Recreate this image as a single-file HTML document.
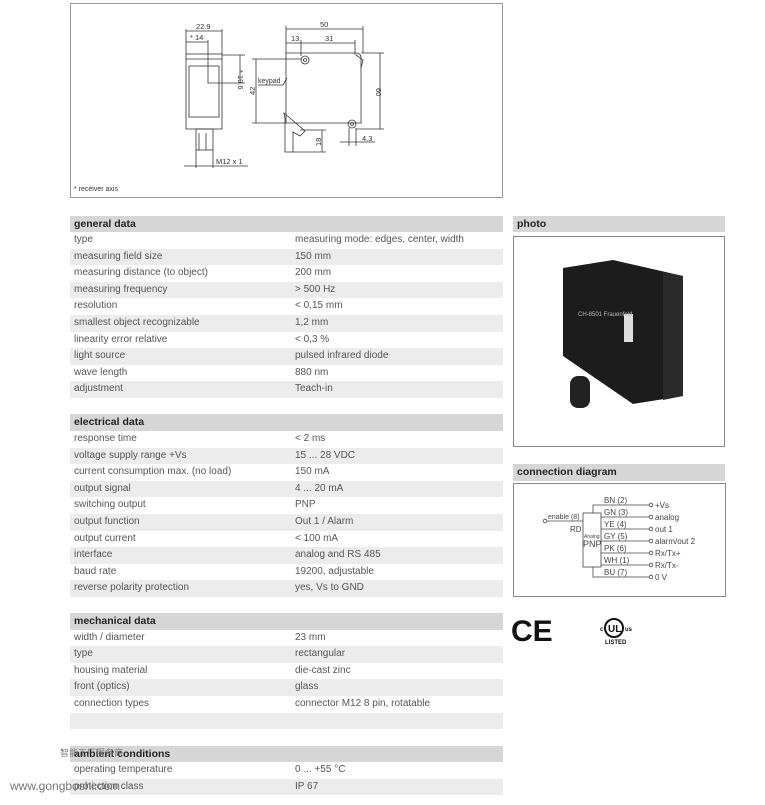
<!DOCTYPE html>
<html><head><meta charset="utf-8"><style>
body{margin:0;width:765px;height:805px;background:#fff;position:relative;overflow:hidden;font-family:"Liberation Sans",sans-serif;color:#555;}
.r{position:absolute;left:70px;width:433px;height:16.6px;font-size:10px;line-height:16.6px;}
.r span{position:absolute;left:4px;}
.r span+span{left:225px;}
.g{background:#ececec;}
.h{position:absolute;height:16.5px;background:#d6d6d6;font-size:10.5px;font-weight:bold;color:#222;line-height:16.5px;padding-left:4px;box-sizing:border-box;}
</style></head><body>
<div style="position:absolute;left:70px;top:3px;width:433px;height:195px;border:1px solid #999;box-sizing:border-box;"></div>
<svg style="position:absolute;left:0;top:0" width="765" height="805">
<g fill="none" stroke="#333" stroke-width="0.8">
<rect x="186" y="54" width="36" height="75"/><line x1="186" y1="59" x2="222" y2="59"/>
<rect x="189" y="66" width="30" height="51"/>
<rect x="196" y="129" width="17" height="21"/>
<line x1="199" y1="133" x2="199" y2="150"/><line x1="206" y1="133" x2="206" y2="150"/>
<line x1="186" y1="31" x2="222" y2="31"/><line x1="186" y1="29" x2="186" y2="54"/><line x1="222" y1="29" x2="222" y2="54"/>
<line x1="186" y1="42" x2="208" y2="42"/><polyline points="208,40 208,83 219,83"/>
<line x1="240" y1="55" x2="240" y2="83"/><line x1="222" y1="55" x2="245" y2="55"/><line x1="219" y1="83" x2="245" y2="83"/>
<line x1="184" y1="166" x2="248" y2="166"/><line x1="196" y1="150" x2="196" y2="168"/><line x1="213" y1="150" x2="213" y2="168"/>
<path d="M286,53 H356 Q361,53 361,58 V123 H286 Z"/>
<path d="M356,55 L363,60 L361,68"/>
<circle cx="305" cy="60" r="4"/><circle cx="305" cy="60" r="1.5"/>
<circle cx="352" cy="124" r="4"/><circle cx="352" cy="124" r="1.5"/>
<path d="M284,113 L305,131 L300,136 L293,132 L293,152 L285,152 L285,118 Z"/>
<line x1="286" y1="29" x2="363" y2="29"/><line x1="286" y1="26" x2="286" y2="53"/><line x1="363" y1="26" x2="363" y2="53"/>
<line x1="286" y1="43" x2="355" y2="43"/><line x1="301" y1="40" x2="301" y2="56"/><line x1="355" y1="40" x2="355" y2="55"/>
<line x1="256" y1="59" x2="256" y2="123"/><line x1="252" y1="59" x2="301" y2="59"/><line x1="252" y1="123" x2="286" y2="123"/>
<line x1="380" y1="53" x2="380" y2="129"/><line x1="361" y1="53" x2="384" y2="53"/><line x1="356" y1="129" x2="384" y2="129"/>
<line x1="322" y1="130" x2="322" y2="152"/><line x1="300" y1="130" x2="326" y2="130"/><line x1="293" y1="152" x2="326" y2="152"/>
<line x1="340" y1="142" x2="375" y2="142"/><line x1="349" y1="128" x2="349" y2="146"/><line x1="356" y1="128" x2="356" y2="146"/>
<line x1="258" y1="85" x2="283" y2="85"/><line x1="283" y1="85" x2="287" y2="78"/>
</g>
<g font-size="7.5" fill="#333" font-family="Liberation Sans,sans-serif">
<text x="196" y="29">22.9</text><text x="190" y="40">* 14</text>
<text x="238" y="70" transform="rotate(90 238 70)">* 19.6</text>
<text x="216" y="164">M12 x 1</text>
<text x="320" y="27">50</text><text x="291" y="41">13</text><text x="325" y="41">31</text>
<text x="255" y="95" transform="rotate(-90 255 95)">42</text>
<text x="376" y="88" transform="rotate(90 376 88)">60</text>
<text x="258" y="83" font-size="7">keypad</text>
<text x="321" y="146" transform="rotate(-90 321 146)">18</text>
<text x="362" y="141">4.3</text>
<text x="74" y="191" font-size="7">* receiver axis</text>
</g>
</svg>

<div class="h" style="left:70px;top:215.5px;width:433px">general data</div>
<div class="r" style="top:232px"><span>type</span><span>measuring mode: edges, center, width</span></div>
<div class="r g" style="top:248.6px"><span>measuring field size</span><span>150 mm</span></div>
<div class="r" style="top:265.2px"><span>measuring distance (to object)</span><span>200 mm</span></div>
<div class="r g" style="top:281.8px"><span>measuring frequency</span><span>&gt; 500 Hz</span></div>
<div class="r" style="top:298.4px"><span>resolution</span><span>&lt; 0,15 mm</span></div>
<div class="r g" style="top:315px"><span>smallest object recognizable</span><span>1,2 mm</span></div>
<div class="r" style="top:331.6px"><span>linearity error relative</span><span>&lt; 0,3 %</span></div>
<div class="r g" style="top:348.2px"><span>light source</span><span>pulsed infrared diode</span></div>
<div class="r" style="top:364.8px"><span>wave length</span><span>880 nm</span></div>
<div class="r g" style="top:381.4px"><span>adjustment</span><span>Teach-in</span></div>

<div class="h" style="left:70px;top:414px;width:433px">electrical data</div>
<div class="r" style="top:431px"><span>response time</span><span>&lt; 2 ms</span></div>
<div class="r g" style="top:447.6px"><span>voltage supply range +Vs</span><span>15 ... 28 VDC</span></div>
<div class="r" style="top:464.2px"><span>current consumption max. (no load)</span><span>150 mA</span></div>
<div class="r g" style="top:480.8px"><span>output signal</span><span>4 ... 20 mA</span></div>
<div class="r" style="top:497.4px"><span>switching output</span><span>PNP</span></div>
<div class="r g" style="top:514px"><span>output function</span><span>Out 1 / Alarm</span></div>
<div class="r" style="top:530.6px"><span>output current</span><span>&lt; 100 mA</span></div>
<div class="r g" style="top:547.2px"><span>interface</span><span>analog and RS 485</span></div>
<div class="r" style="top:563.8px"><span>baud rate</span><span>19200, adjustable</span></div>
<div class="r g" style="top:580.4px"><span>reverse polarity protection</span><span>yes, Vs to GND</span></div>

<div class="h" style="left:70px;top:613px;width:433px">mechanical data</div>
<div class="r" style="top:629.5px"><span>width / diameter</span><span>23 mm</span></div>
<div class="r g" style="top:646.1px"><span>type</span><span>rectangular</span></div>
<div class="r" style="top:662.7px"><span>housing material</span><span>die-cast zinc</span></div>
<div class="r g" style="top:679.3px"><span>front (optics)</span><span>glass</span></div>
<div class="r" style="top:695.9px"><span>connection types</span><span>connector M12 8 pin, rotatable</span></div>
<div class="r g" style="top:712.5px"></div>

<div class="h" style="left:70px;top:745.5px;width:433px">ambient conditions</div>
<div class="r" style="top:762px"><span>operating temperature</span><span>0 ... +55 °C</span></div>
<div class="r g" style="top:778.6px"><span>protection class</span><span>IP 67</span></div>
<div style="position:absolute;left:10px;top:779px;font-size:12px;color:#777;">www.gongboshi.com</div>
<div style="position:absolute;left:60px;top:746px;font-size:9px;color:#777;font-family:'Liberation Sans','Noto Sans CJK SC',sans-serif;">智能工厂服务商</div>

<div class="h" style="left:513px;top:215.5px;width:212px">photo</div>
<div style="position:absolute;left:513px;top:236px;width:212px;height:211px;border:1px solid #888;box-sizing:border-box;"></div>
<svg style="position:absolute;left:513px;top:236px" width="212" height="211">
<polygon points="50,32 100,24 170,40 170,160 120,168 50,120" fill="#1c1c1c"/>
<polygon points="150,36 170,40 170,160 150,164" fill="#2a2a2a"/>
<rect x="57" y="140" width="20" height="32" rx="8" fill="#222"/>
<rect x="111" y="78" width="9" height="28" fill="#ddd"/>
<text x="65" y="80" font-size="6" fill="#bbb" font-family="Liberation Sans,sans-serif">CH-8501 Frauenfeld</text>
</svg>

<div class="h" style="left:513px;top:464px;width:212px">connection diagram</div>
<div style="position:absolute;left:513px;top:483px;width:213px;height:114px;border:1px solid #888;box-sizing:border-box;"></div>
<svg style="position:absolute;left:0;top:0" width="765" height="805">
<g stroke="#444" stroke-width="0.8" fill="none">
<rect x="583" y="513" width="18" height="54"/>
<polyline points="593,513 593,505 649,505"/>
<line x1="601" y1="517" x2="649" y2="517"/><line x1="601" y1="529" x2="649" y2="529"/>
<line x1="601" y1="541" x2="649" y2="541"/><line x1="601" y1="553" x2="649" y2="553"/>
<line x1="601" y1="565" x2="649" y2="565"/><polyline points="593,567 593,577 649,577"/>
<line x1="547" y1="521" x2="583" y2="521"/>
<circle cx="651" cy="505" r="1.8"/><circle cx="651" cy="517" r="1.8"/><circle cx="651" cy="529" r="1.8"/>
<circle cx="651" cy="541" r="1.8"/><circle cx="651" cy="553" r="1.8"/><circle cx="651" cy="565" r="1.8"/>
<circle cx="651" cy="577" r="1.8"/><circle cx="545" cy="521" r="1.8"/>
</g>
<g font-size="8" fill="#444" font-family="Liberation Sans,sans-serif">
<text x="604" y="503">BN (2)</text><text x="604" y="515">GN (3)</text><text x="604" y="527">YE (4)</text>
<text x="604" y="539">GY (5)</text><text x="604" y="551">PK (6)</text><text x="604" y="563">WH (1)</text><text x="604" y="575">BU (7)</text>
<text x="655" y="508">+Vs</text><text x="655" y="520">analog</text><text x="655" y="532">out 1</text>
<text x="655" y="544">alarm/out 2</text><text x="655" y="556">Rx/Tx+</text><text x="655" y="568">Rx/Tx-</text><text x="655" y="580">0 V</text>
<text x="548" y="519" font-size="7">enable (8)</text><text x="570" y="532">RD</text>
<text x="584" y="538" font-size="5">Analog</text><text x="583" y="547" font-size="9">PNP</text>
</g>
<text x="511" y="641" font-size="30" font-weight="bold" fill="#111" font-family="Liberation Sans,sans-serif">CE</text>
<circle cx="614" cy="628" r="9" fill="none" stroke="#111" stroke-width="2"/>
<text x="608" y="632" font-size="10" font-weight="bold" fill="#111" font-family="Liberation Sans,sans-serif">UL</text>
<text x="600" y="631" font-size="6" font-weight="bold" fill="#111">c</text>
<text x="625" y="631" font-size="6" font-weight="bold" fill="#111">us</text>
<text x="605" y="644" font-size="6" font-weight="bold" fill="#111">LISTED</text>
</svg>
</body></html>
